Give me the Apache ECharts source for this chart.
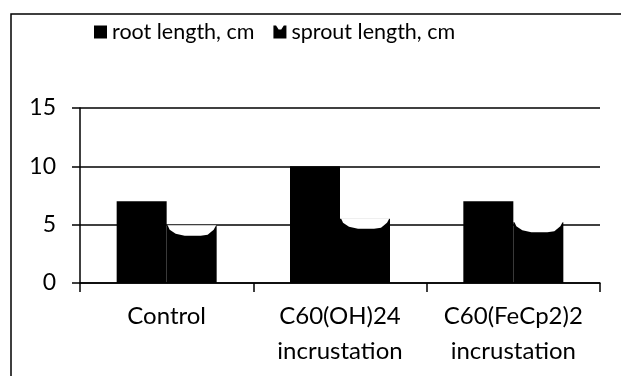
<!DOCTYPE html>
<html>
<head>
<meta charset="utf-8">
<script src="https://cdn.jsdelivr.net/npm/echarts@6/dist/echarts.min.js"></script>
<style>
  html, body { margin: 0; padding: 0; background: #fff; }
  #chart { width: 621px; height: 376px; }
</style>
</head>
<body>
<div id="chart"></div>
<script>
// Seedling measurements per treatment
const categories = ['Control', 'C60(OH)24\nincrustation', 'C60(FeCp2)2\nincrustation'];
const rootLength = [7, 10, 7];
const sproutLength = [4.9, 5.5, 5.2];
const yTicks = [0, 5, 10, 15];

const FONT = 'Lato, "Open Sans", sans-serif';
const BAR_W = 50;

const chart = echarts.init(document.getElementById('chart'), null, { renderer: 'canvas' });

// square legend marker with a shallow dip in its top edge
const sproutIcon = 'path://M0,0 L2,0 L4,3 L6,3 L8,0 L10,0 L10,10 L0,10 Z';

chart.setOption({
  animation: false,
  backgroundColor: '#fff',
  textStyle: { fontFamily: FONT, color: '#000' },
  graphic: [{
    type: 'polyline',
    shape: { points: [[11, 376], [11, 14], [621, 14]] },
    style: { stroke: '#000', lineWidth: 1.5, fill: null },
    silent: true
  }],
  legend: {
    left: 89,
    top: 16,
    itemWidth: 13,
    itemHeight: 13,
    itemGap: 19,
    textStyle: { fontFamily: FONT, fontSize: 21.5, color: '#000' },
    data: [
      { name: 'root length, cm', icon: 'rect' },
      { name: 'sprout length, cm', icon: sproutIcon }
    ]
  },
  grid: { left: 80, right: 21, top: 108, bottom: 93, containLabel: false },
  xAxis: {
    type: 'category',
    data: categories,
    axisLine: { lineStyle: { color: '#000', width: 1.5 } },
    axisTick: { show: true, interval: 0, length: 9, lineStyle: { color: '#000', width: 1.5 } },
    axisLabel: {
      interval: 0, color: '#000', fontFamily: FONT, fontSize: 24,
      lineHeight: 35, margin: 16
    }
  },
  yAxis: {
    type: 'value',
    min: yTicks[0],
    max: yTicks[yTicks.length - 1],
    interval: yTicks[1] - yTicks[0],
    axisLine: { show: true, lineStyle: { color: '#000', width: 1.5 } },
    axisTick: { show: true, length: 8, lineStyle: { color: '#000', width: 1.5 } },
    axisLabel: { color: '#000', fontFamily: FONT, fontSize: 23, margin: 24 },
    splitLine: { lineStyle: { color: '#000', width: 1.5 } }
  },
  series: [
    {
      name: 'root length, cm',
      type: 'bar',
      data: rootLength,
      barWidth: BAR_W,
      barGap: '0%',
      itemStyle: { color: '#000' },
      z: 3
    },
    {
      name: 'sprout length, cm',
      type: 'bar',
      data: sproutLength,
      barWidth: BAR_W,
      barGap: '0%',
      itemStyle: { color: '#000' },
      z: 3
    },
    {
      // pale dip along the top of each sprout bar
      name: 'sprout notch',
      type: 'custom',
      data: sproutLength.map((v, i) => [i, v]),
      z: 4,
      silent: true,
      renderItem: function (params, api) {
        const p = api.coord([api.value(0), api.value(1)]);
        const x0 = p[0];
        const x1 = p[0] + BAR_W;
        const y = p[1];
        return {
          type: 'polygon',
          shape: {
            points: [
              [x0 + 1, y - 0.5], [x1 - 0.5, y - 0.5],
              [x1 - 3, y + 4], [x1 - 9, y + 9], [x1 - 16, y + 10],
              [x0 + 18, y + 10], [x0 + 9, y + 8], [x0 + 3, y + 4]
            ]
          },
          style: { fill: '#fff' }
        };
      }
    }
  ]
});
</script>
</body>
</html>
